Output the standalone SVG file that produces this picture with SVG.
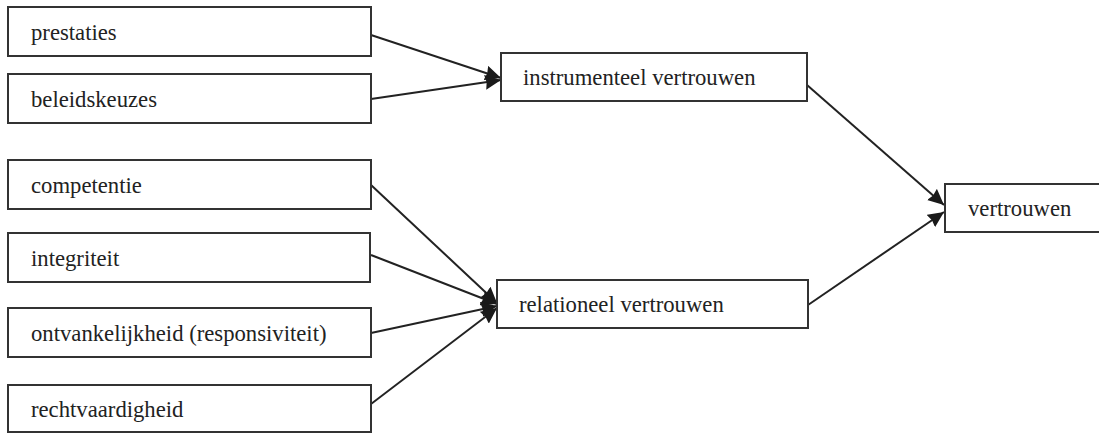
<svg xmlns="http://www.w3.org/2000/svg" width="1099" height="433" viewBox="0 0 1099 433">
<style>
.box{fill:#fff;stroke:#333;stroke-width:2}
.lbl{font-family:'Liberation Serif','Times New Roman','DejaVu Serif',serif;font-size:22.7px;fill:#222}
.conn{stroke:#222;stroke-width:2;fill:none;marker-end:url(#arr)}
</style>
<defs>
<marker id="arr" markerWidth="17" markerHeight="15" refX="16" refY="7.5" orient="auto" markerUnits="userSpaceOnUse">
<path d="M0,0 L16,7.5 L0,15 L1.5,7.5 z" fill="#1a1a1a"/>
</marker>
</defs>
<rect width="1099" height="433" fill="#fff"/>
<g id="connectors">
<line class="conn" x1="371" y1="35" x2="501" y2="78"/>
<line class="conn" x1="371" y1="99" x2="501" y2="80"/>
<line class="conn" x1="371" y1="185" x2="497" y2="303"/>
<line class="conn" x1="371" y1="255" x2="497" y2="304"/>
<line class="conn" x1="371" y1="333" x2="497" y2="306"/>
<line class="conn" x1="371" y1="404" x2="497" y2="308"/>
<line class="conn" x1="807" y1="85" x2="944" y2="205"/>
<line class="conn" x1="808" y1="305" x2="944" y2="212"/>
</g>
<g id="prestaties"><rect class="box" x="8" y="7" width="363" height="49"/><text class="lbl" x="31" y="40">prestaties</text></g>
<g id="beleidskeuzes"><rect class="box" x="8" y="74" width="363" height="49"/><text class="lbl" x="31" y="107">beleidskeuzes</text></g>
<g id="competentie"><rect class="box" x="8" y="160" width="363" height="49"/><text class="lbl" x="31" y="193">competentie</text></g>
<g id="integriteit"><rect class="box" x="8" y="233" width="362" height="49"/><text class="lbl" x="31" y="266">integriteit</text></g>
<g id="ontvankelijkheid"><rect class="box" x="8" y="308" width="363" height="49"/><text class="lbl" x="31" y="341">ontvankelijkheid (responsiviteit)</text></g>
<g id="rechtvaardigheid"><rect class="box" x="8" y="385" width="363" height="47"/><text class="lbl" x="31" y="417">rechtvaardigheid</text></g>
<g id="instrumenteel"><rect class="box" x="501" y="53" width="306" height="48"/><text class="lbl" x="523" y="85">instrumenteel vertrouwen</text></g>
<g id="relationeel"><rect class="box" x="497" y="280" width="311" height="48"/><text class="lbl" x="519" y="312">relationeel vertrouwen</text></g>
<g id="vertrouwen"><rect class="box" x="945" y="184" width="160" height="48"/><text class="lbl" x="968" y="216">vertrouwen</text></g>
</svg>
